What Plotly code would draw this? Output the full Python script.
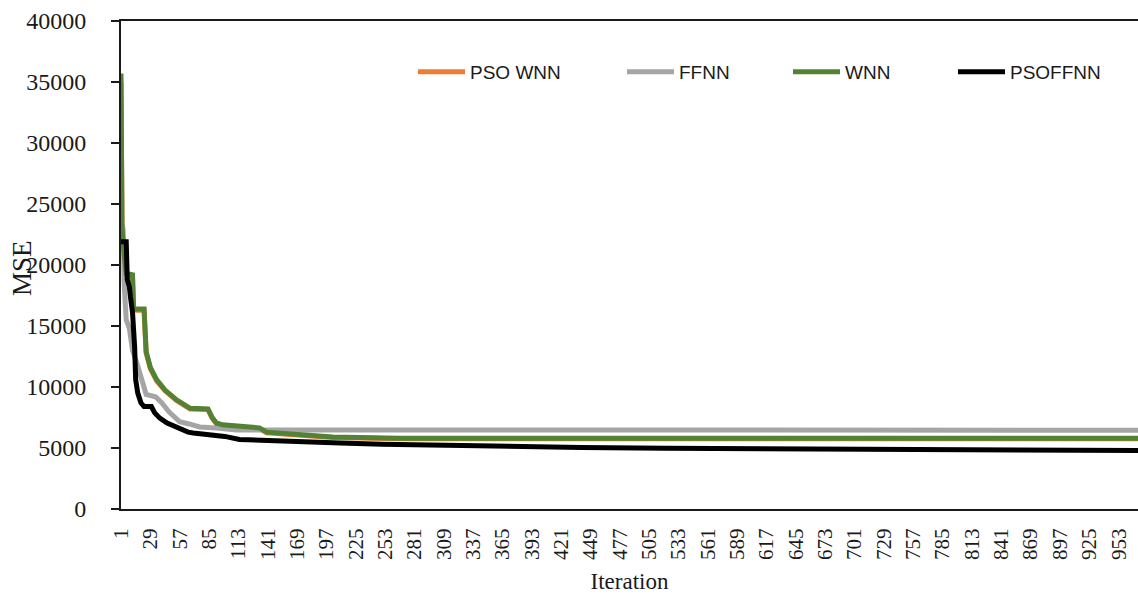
import plotly.graph_objects as go

# ---------------- data ----------------
pso_wnn_iter = [1, 2, 4, 6, 12, 13, 23, 25, 29, 35, 43, 54, 67, 84, 88, 92, 98, 115, 133, 140, 172, 203, 267, 1000]
pso_wnn_mse = [35000, 22800, 20800, 19100, 19000, 16300, 16300, 12800, 11500, 10500, 9700, 8900, 8200, 8150,
               7450, 7000, 6850, 6700, 6600, 6250, 6000, 5860, 5760, 5760]

ffnn_iter = [1, 3, 4, 6, 9, 12, 16, 21, 25, 34, 40, 47, 57, 66, 76, 92, 111, 1000]
ffnn_mse = [23500, 23000, 18500, 15500, 14800, 13000, 12000, 10600, 9400, 9200, 8700, 7950, 7150, 6970,
            6720, 6640, 6480, 6460]

wnn_iter = [1, 2, 4, 6, 12, 13, 23, 25, 29, 35, 43, 54, 67, 84, 88, 92, 98, 115, 133, 140, 172, 203, 267, 1000]
wnn_mse = [35700, 23000, 21000, 19300, 19200, 16400, 16400, 12900, 11600, 10600, 9750, 8950, 8250, 8200,
           7500, 7050, 6900, 6750, 6650, 6300, 6050, 5900, 5800, 5800]

psoffnn_iter = [1, 6, 7, 9, 10, 12, 14, 15, 17, 20, 23, 30, 33, 38, 45, 54, 59, 65, 70, 87, 100, 114, 140,
                172, 210, 250, 300, 360, 440, 520, 553, 611, 658, 770, 819, 885, 1000]
psoffnn_mse = [21900, 21900, 18800, 18200, 17400, 16100, 13300, 10600, 9500, 8700, 8400, 8400, 7900, 7450,
               7050, 6720, 6480, 6300, 6230, 6070, 5950, 5700, 5600, 5500, 5400, 5300, 5220, 5150, 5050,
               4980, 4960, 4930, 4900, 4870, 4840, 4800, 4780]

x_tick_labels = [1, 29, 57, 85, 113, 141, 169, 197, 225, 253, 281, 309, 337, 365, 393, 421, 449, 477, 505,
                 533, 561, 589, 617, 645, 673, 701, 729, 757, 785, 813, 841, 869, 897, 925, 953]
y_tick_values = [0, 5000, 10000, 15000, 20000, 25000, 30000, 35000, 40000]

series = [
    ("PSO WNN", pso_wnn_iter, pso_wnn_mse, "#ED7D31", "legend"),
    ("FFNN", ffnn_iter, ffnn_mse, "#A5A5A5", "legend2"),
    ("WNN", wnn_iter, wnn_mse, "#548235", "legend3"),
    ("PSOFFNN", psoffnn_iter, psoffnn_mse, "#000000", "legend4"),
]

# ---------------- layout geometry ----------------
W, H = 1138, 597
ML, MR, MT, MB = 121, 0, 21, 88
PW = W - ML - MR
PH = H - MT - MB
PX_PER_ITER = 1.048
X_RANGE = [1, 1 + PW / PX_PER_ITER]

fig = go.Figure()
for name, xs, ys, color, lg in series:
    fig.add_trace(go.Scatter(
        x=xs, y=ys, mode="lines", name=name,
        line=dict(color=color, width=5),
        legend=lg,
    ))

# tick-mark positions (alternating below / above the axis)
tick_step = 24.45
down_ticks = [k * 2 * tick_step for k in range(1, 21)]
up_ticks = [tick_step + k * 2 * tick_step for k in range(0, 20)]

serif = "Liberation Serif, Times New Roman, serif"
sans = "Liberation Sans, Arial, sans-serif"

def leg_x(px):
    return (px - ML) / PW

leg_y = 1 - (72 - MT) / PH
legend_common = dict(orientation="h", yanchor="middle", y=leg_y, xanchor="left",
                     bgcolor="rgba(0,0,0,0)", borderwidth=0, itemwidth=47,
                     font=dict(family=sans, size=19, color="#1a1a1a"))

fig.update_layout(
    width=W, height=H,
    margin=dict(l=ML, r=MR, t=MT, b=MB, pad=0),
    paper_bgcolor="white", plot_bgcolor="white",
    showlegend=True,
    legend=dict(x=leg_x(413), **legend_common),
    legend2=dict(x=leg_x(622), **legend_common),
    legend3=dict(x=leg_x(788), **legend_common),
    legend4=dict(x=leg_x(953), **legend_common),
    xaxis=dict(
        range=X_RANGE, tickmode="array", tickvals=x_tick_labels,
        ticktext=[str(v) for v in x_tick_labels], tickangle=-90,
        ticks="", ticklabelstandoff=9,
        tickfont=dict(family=serif, size=21, color="#1a1a1a"),
        showgrid=False, zeroline=False,
        showline=True, linecolor="#1a1a1a", linewidth=2, mirror=True,
        title=dict(text="Iteration", font=dict(family=serif, size=23, color="#1a1a1a"), standoff=14),
    ),
    xaxis2=dict(
        overlaying="x", anchor="y", side="bottom", range=X_RANGE,
        tickmode="array", tickvals=down_ticks, showticklabels=False,
        ticks="outside", ticklen=6, tickwidth=2, tickcolor="#1a1a1a",
        minor=dict(tickmode="array", tickvals=up_ticks, ticks="inside", ticklen=6,
                   tickwidth=2, tickcolor="#1a1a1a", showgrid=False),
        showgrid=False, zeroline=False, showline=False,
    ),
    yaxis=dict(
        range=[0, 40000], tickmode="array", tickvals=y_tick_values,
        ticktext=[str(v) for v in y_tick_values],
        ticks="outside", ticklen=8, tickwidth=2, tickcolor="#1a1a1a",
        ticklabelstandoff=20,
        tickfont=dict(family=serif, size=24, color="#1a1a1a"),
        showgrid=False, zeroline=False,
        showline=True, linecolor="#1a1a1a", linewidth=2,
    ),
    annotations=[dict(
        text="MSE", xref="paper", yref="paper",
        x=(22 - ML) / PW, y=1 - (268 - MT) / PH,
        xanchor="center", yanchor="middle", textangle=-90, showarrow=False,
        font=dict(family=serif, size=27, color="#1a1a1a"),
    )],
)

fig.write_html("out.html")
